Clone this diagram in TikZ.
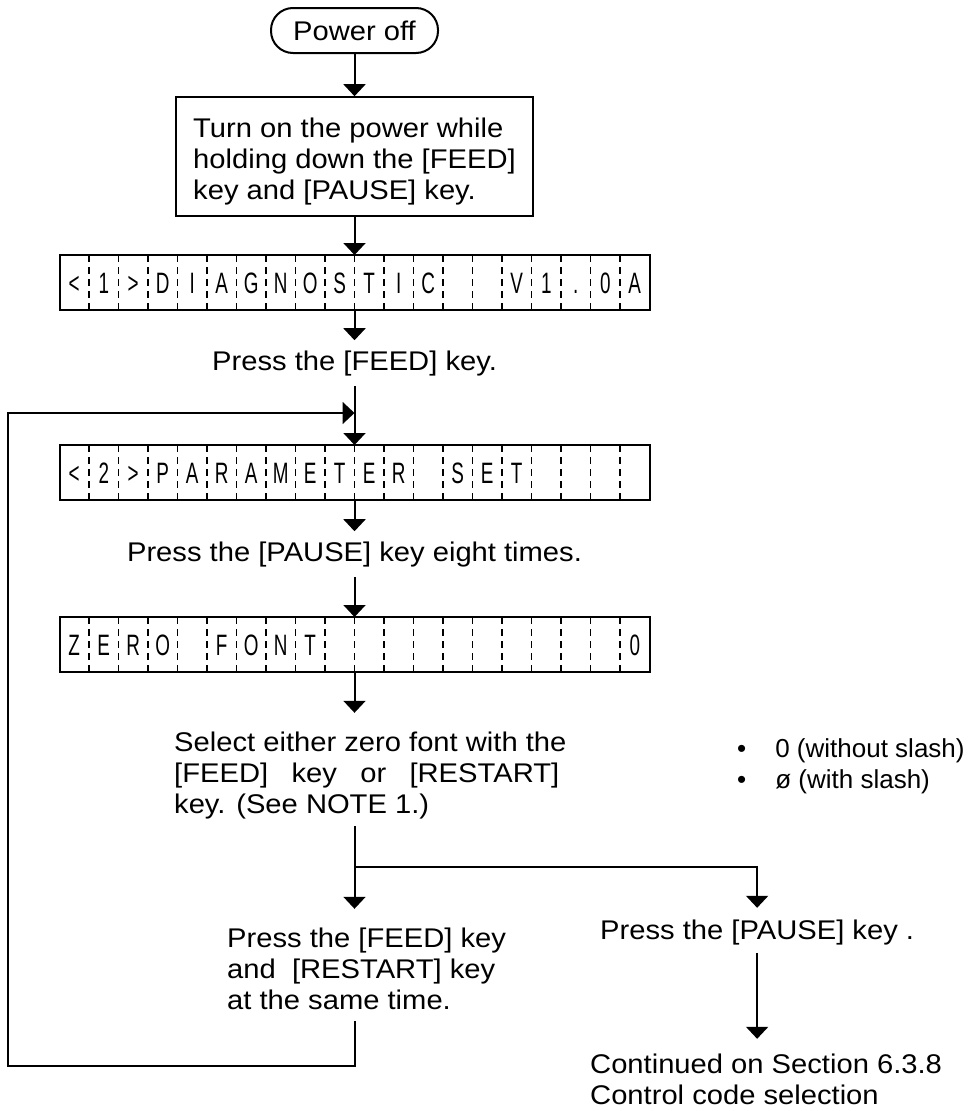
\documentclass[tikz,border=0pt]{standalone}
\usepackage{fontspec}
\setmainfont{Liberation Sans}[FakeStretch=1.08]
\newfontfamily\lcdfont{Liberation Sans}[FakeStretch=0.64]
\newfontfamily\bulfont{Liberation Sans}
\usetikzlibrary{arrows.meta}
\tikzset{
  ln/.style={line width=2pt},
  arr/.style={ln,-{Triangle[length=12pt,width=22pt]}},
  txt/.style={font=\fontsize{27}{31}\selectfont, inner xsep=0pt, inner ysep=10pt, align=left},
  boxnode/.style={draw, ln, font=\fontsize{27}{31}\selectfont, align=left},
  lcdbox/.style={draw, ln, minimum width=590pt, minimum height=55pt, inner sep=0pt, outer sep=0pt},
  lcdsep/.style={line width=1.3pt, dash pattern=on 7pt off 5pt},
  lcdchar/.style={font=\lcdfont\fontsize{29.5}{29.5}\selectfont, inner sep=0pt, anchor=base},
}
\newcommand\lcdrow[3]{%
  \node[lcdbox] (#1) at (354.5,#2+27.5) {};
  \foreach \k in {1,...,19}
    \draw[lcdsep] ([xshift=\k*29.5pt]#1.north west) -- ([xshift=\k*29.5pt]#1.south west);
  \foreach \c [count=\i] in {#3}
    \node[lcdchar] (#1c\i) at ([xshift=\i*29.5pt-14.75pt, yshift=-38.5pt]#1.north west) {\c};
}
\begin{document}
\begin{tikzpicture}[x=1pt,y=-1pt]
\useasboundingbox (0,0) rectangle (969,1111);

% top
\node[draw, ln, rounded corners=22pt, minimum width=167pt, minimum height=45pt,
      inner sep=0pt, font=\fontsize{27}{31}\selectfont] (off) at (354.5,30.5) {Power off};
\node[boxnode, inner xsep=17pt, inner ysep=11pt] (on) at (354.5,156.5)
  {\rule{0pt}{29pt}Turn on the power while\\holding down the [FEED]\\key and [PAUSE] key.};
\draw[arr] (off.south) -- (on.north);

\lcdrow{lcd1}{255}{<,1,>,D,I,A,G,N,O,S,T,I,C,{},{},V,1,.,0,A}
\draw[arr] (on.south) -- (lcd1.north);

\node[txt, anchor=base] (p1) at (354.5,370) {Press the [FEED] key.};
\draw[arr] (lcd1.south) -- (p1.north);

\lcdrow{lcd2}{445}{<,2,>,P,A,R,A,M,E,T,E,R,{},S,E,T,{},{},{},{}}
\coordinate (join) at (354.5,413);
\draw[arr] (p1.south) -- (lcd2.north);

\node[txt, anchor=base] (p2) at (354.5,561) {Press the [PAUSE] key eight times.};
\draw[arr] (lcd2.south) -- (p2.north);

\lcdrow{lcd3}{617}{Z,E,R,O,{},F,O,N,T,{},{},{},{},{},{},{},{},{},{},0}
\draw[arr] (p2.south) -- (lcd3.north);

% multi-line nodes: base anchor = baseline of the last line
\node[txt, inner ysep=7pt, anchor=base west] (sel) at (174,813)
  {\rule{0pt}{31pt}Select either zero font with the\\
   \hbox to 385pt{[FEED]\hfill key\hfill or\hfill [RESTART]}\\
   key. (See NOTE 1.)};
\draw[arr] (lcd3.south) -- (lcd3.south |- sel.north);

\node[anchor=base west, inner sep=0pt, align=left, font=\bulfont\fontsize{26}{31}\selectfont]
  (bul) at (737,788) {•\hspace{29pt}0 (without slash)\\•\hspace{29pt}ø (with slash)};

% branches
\coordinate (split) at (354.5,867);
\draw[ln] (lcd3.south |- sel.south) -- (split);

\node[txt, inner ysep=12pt, anchor=base west] (fr) at (227,1009)
  {\rule{0pt}{26pt}Press the [FEED] key\\and\ \ [RESTART] key\\at the same time.};
\draw[arr] (split) -- (split |- fr.north);

\node[txt, inner ysep=8pt, anchor=base west] (pa) at (600,939) {\rule{0pt}{23pt}Press the [PAUSE] key .};
\draw[arr] (split) -| (pa.north);

\node[txt, inner ysep=11pt, anchor=base west] (co) at (590,1104)
  {\rule{0pt}{23pt}Continued on Section 6.3.8\\Control code selection};
\draw[arr] (pa.south) -- (pa.south |- co.north);

% loop back
\coordinate (loopbr) at (354.5,1066);
\coordinate (loopbl) at (8,1066);
\draw[arr] (split |- fr.south) -- (loopbr) -- (loopbl) |- (join);
\end{tikzpicture}
\end{document}
